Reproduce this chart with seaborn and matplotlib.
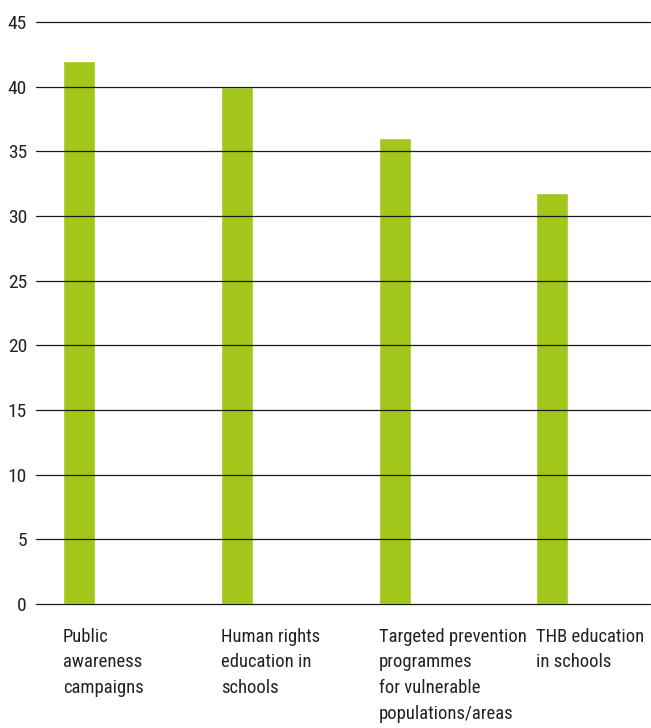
import matplotlib
matplotlib.use("Agg")
import matplotlib.pyplot as plt
import seaborn as sns
import pandas as pd

# Données
categories = ["Public\nawareness\ncampaigns",
              "Human rights\neducation in\nschools",
              "Targeted prevention\nprogrammes\nfor vulnerable\npopulations/areas",
              "THB education\nin schools"]
values = [42.0, 40.0, 36.0, 31.8]
yticks = [0, 5, 10, 15, 20, 25, 30, 35, 40, 45]

df = pd.DataFrame({"cat": categories, "val": values})

sns.set_theme(style="white")
plt.rcParams['font.family'] = ['Roboto Condensed', 'DejaVu Sans']

fig = plt.figure(figsize=(6.51, 7.28), dpi=100)
ax = fig.add_axes([0.0553, 0.1703, 0.9432, 0.7995])

bar_w = 0.203
sns.barplot(data=df, x="cat", y="val", color="#a3c61a", saturation=1,
            width=bar_w, ax=ax, zorder=1)

# lignes de grille au-dessus des barres
for t in yticks:
    ax.axhline(t, color="#1a1a1a", lw=0.9, zorder=3, clip_on=False)

ax.set_ylim(0, 45)
ax.set_xlim(-0.273, 3.62)
ax.set_yticks(yticks)
ax.set_xticks([i - bar_w / 2 for i in range(len(categories))])
ax.set_xticklabels(categories, ha="left", va="top", linespacing=1.56)
ax.tick_params(axis="x", length=0, pad=17, labelsize=13.4, colors="#222222")
ax.tick_params(axis="y", length=0, pad=6.5, labelsize=14, colors="#222222")
ax.set_xlabel("")
ax.set_ylabel("")
for s in ax.spines.values():
    s.set_visible(False)

fig.savefig("out.png", dpi=100)
